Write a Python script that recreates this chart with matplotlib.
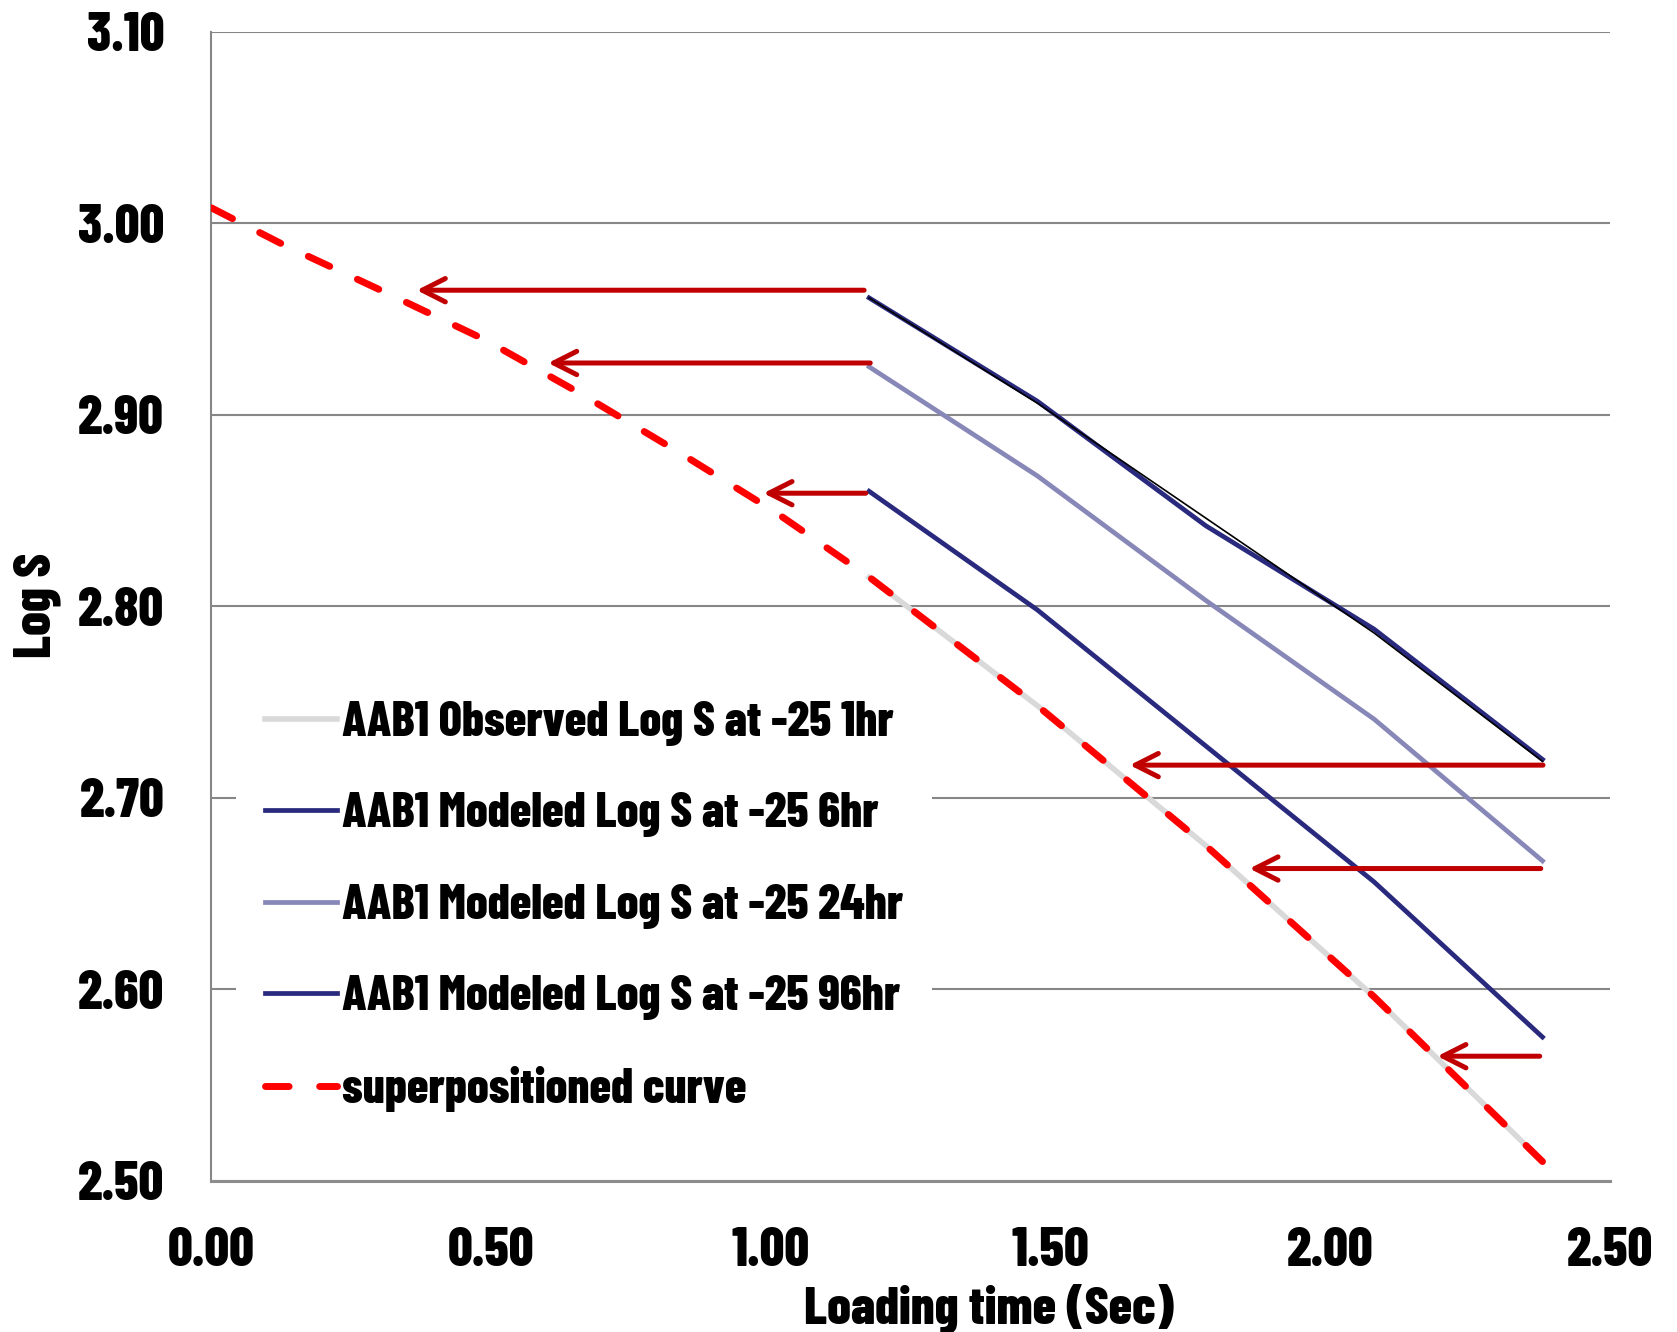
import numpy as np
import matplotlib
matplotlib.use("Agg")
import matplotlib.pyplot as plt
from matplotlib.ticker import FormatStrFormatter

# loading times (log10 of seconds)
logTime = [1.176, 1.477, 1.778, 2.079, 2.380]

observed1hr = [2.815, 2.748, 2.675, 2.596, 2.510]
modeled6hr = [2.961, 2.907, 2.842, 2.788, 2.720]
observed6hr = [2.961, 2.906, 2.846, 2.786, 2.719]
modeled24hr = [2.925, 2.868, 2.803, 2.741, 2.667]
modeled96hr = [2.860, 2.798, 2.727, 2.656, 2.575]

superX = [0.000, 0.127, 0.310, 0.490, 0.666, 0.838, 1.009, 1.177, 1.477, 1.778, 2.079, 2.380]
superY = [3.008, 2.989, 2.964, 2.939, 2.910, 2.880, 2.849, 2.815, 2.748, 2.675, 2.596, 2.510]

# shift arrows: level, start (right) and tip (left)
arrowY = [2.965, 2.927, 2.859, 2.717, 2.663, 2.565]
arrowFrom = [1.167, 1.178, 1.170, 2.381, 2.377, 2.375]
arrowTo = [0.367, 0.602, 0.987, 1.642, 1.856, 2.192]

labels = ["AAB1 Observed Log S at -25 1hr",
          "AAB1 Modeled Log S at -25 6hr",
          "AAB1 Modeled Log S at -25 24hr",
          "AAB1 Modeled Log S at -25 96hr",
          "superpositioned curve"]

plt.rcParams['font.family'] = ['Barlow Condensed', 'Liberation Sans', 'DejaVu Sans']
plt.rcParams['font.weight'] = 'heavy'
plt.rcParams['axes.labelweight'] = 'heavy'

navy = '#29297d'
fig = plt.figure(figsize=(16.77, 13.32), dpi=100)
ax = fig.add_axes([0.1261, 0.1136, 0.8337, 0.8626])

ax.plot(logTime, observed1hr, color='#d9d9d9', linewidth=4.0, label=labels[0], zorder=3)
ax.plot(logTime, modeled6hr, color=navy, linewidth=3.4, label=labels[1], zorder=4)
ax.plot(logTime, modeled24hr, color='#8787b8', linewidth=3.4, label=labels[2], zorder=4)
ax.plot(logTime, modeled96hr, color=navy, linewidth=3.4, label=labels[3], zorder=4)
ax.plot(logTime, observed6hr, color='black', linewidth=1.2, zorder=5)
ax.plot(superX, superY, color='#ff0000', linewidth=5.0, linestyle=(0, (3.4, 4.4)),
        dash_capstyle='round', label=labels[4], zorder=6)

for y, x0, x1 in zip(arrowY, arrowFrom, arrowTo):
    ax.annotate('', xy=(x1, y), xytext=(x0, y),
                arrowprops=dict(arrowstyle='->,head_length=0.83,head_width=0.42',
                                color='#c00000', lw=3.6, shrinkA=0, shrinkB=0,
                                mutation_scale=20),
                zorder=7)

ax.set_xlim(0, 2.5)
ax.set_ylim(2.5, 3.1)
ax.set_xticks(np.arange(0, 2.51, 0.5))
ax.set_yticks(np.arange(2.5, 3.101, 0.1))
ax.xaxis.set_major_formatter(FormatStrFormatter('%.2f'))
ax.yaxis.set_major_formatter(FormatStrFormatter('%.2f'))
ax.tick_params(length=0, labelsize=39)
ax.tick_params(axis='y', pad=34)
ax.tick_params(axis='x', pad=33)
ax.grid(axis='y', color='#878787', linewidth=1.5)
ax.set_axisbelow(True)
for s in ['top', 'right']:
    ax.spines[s].set_visible(False)
ax.spines['left'].set_color('#878787')
ax.spines['left'].set_linewidth(1.5)
ax.spines['bottom'].set_color('#8c8c8c')
ax.spines['bottom'].set_linewidth(2.2)

ax.set_xlabel('Loading time (Sec)', fontsize=38, fontweight='heavy', va='baseline')
ax.xaxis.set_label_coords(0.556, -0.124)
ax.set_ylabel('Log S', fontsize=38, fontweight='heavy', va='baseline')
ax.yaxis.set_label_coords(-0.115, 0.501)

leg = ax.legend(loc='center left', bbox_to_anchor=(0.1407, 0.3194),
                bbox_transform=fig.transFigure, fontsize=35, frameon=True,
                facecolor='white', edgecolor='none', framealpha=1, fancybox=False,
                borderpad=0.6, borderaxespad=0, handlelength=1.48,
                handletextpad=0.1, labelspacing=0.95)
leg.set_zorder(2.5)

fig.savefig('out.png', dpi=100, facecolor='white')
